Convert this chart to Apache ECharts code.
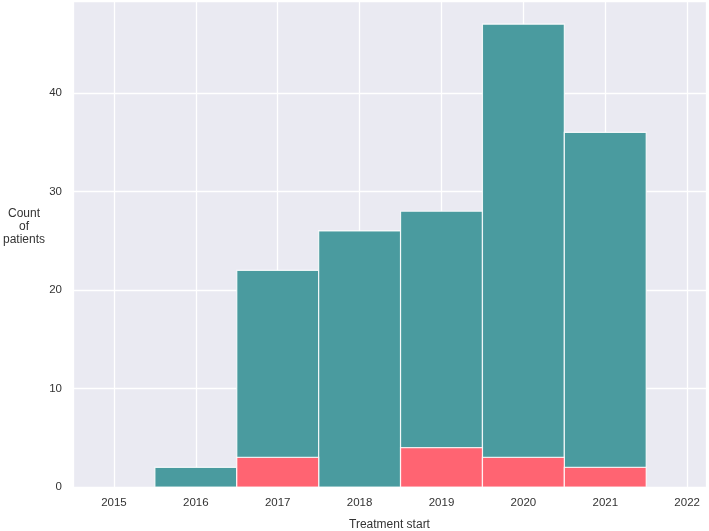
<!DOCTYPE html>
<html>
<head>
<meta charset="utf-8">
<script src="https://cdn.jsdelivr.net/npm/echarts@6/dist/echarts.min.js"></script>
<style>
  html, body { margin: 0; padding: 0; background: #ffffff; }
  #chart { width: 709px; height: 531px; }
</style>
</head>
<body>
<div id="chart"></div>
<script>
// yearly bins, each 1 year wide centred on the year
const years = [2016, 2017, 2018, 2019, 2020, 2021]
const totalCounts = [2, 22, 26, 28, 47, 36]
const subgroupCounts = [0, 3, 0, 4, 3, 2]

const teal = '#4a9b9f'
const pink = '#ff6472'

const chart = echarts.init(document.getElementById('chart'))

function binData(counts) {
  return years.map((y, i) => [y - 0.5, y + 0.5, counts[i]])
}

function renderBin(params, api) {
  const start = api.coord([api.value(0), 0])
  const end = api.coord([api.value(1), api.value(2)])
  if (api.value(2) <= 0) return null
  return {
    type: 'rect',
    shape: {
      x: start[0],
      y: end[1],
      width: end[0] - start[0],
      height: start[1] - end[1]
    },
    style: api.style({
      fill: api.visual('color'),
      stroke: 'rgba(255,255,255,0.85)',
      lineWidth: 1.2
    })
  }
}

const labelColor = '#333333'
const fontFamily = '"Liberation Sans", Arial, sans-serif'

chart.setOption({
  animation: false,
  backgroundColor: '#ffffff',
  textStyle: { fontFamily },
  grid: {
    left: 73,
    right: 3,
    top: 1,
    bottom: 44,
    outerBoundsMode: 'none',
    show: true,
    backgroundColor: '#eaeaf2',
    borderWidth: 0
  },
  xAxis: {
    type: 'value',
    min: 2014.5,
    max: 2022.23,
    minInterval: 1,
    maxInterval: 1,
    name: 'Treatment start',
    nameLocation: 'middle',
    nameGap: 32,
    nameTextStyle: { color: labelColor, fontSize: 12, fontFamily },
    axisLine: { show: false },
    axisTick: { show: false },
    axisLabel: {
      color: labelColor,
      fontSize: 11.5,
      margin: 10,
      showMinLabel: false,
      showMaxLabel: false,
      formatter: (v) => Number.isInteger(v) ? String(v) : ''
    },
    splitLine: { show: true, lineStyle: { color: '#ffffff', width: 1.3 } }
  },
  yAxis: {
    type: 'value',
    min: 0,
    max: 49.35,
    interval: 10,
    axisLine: { show: false },
    axisTick: { show: false },
    axisLabel: {
      color: labelColor,
      fontSize: 11.5,
      margin: 11,
      showMaxLabel: false
    },
    splitLine: { show: true, lineStyle: { color: '#ffffff', width: 1.3 } }
  },
  graphic: [
    {
      type: 'text',
      x: 24,
      y: 207,
      style: {
        text: 'Count\nof\npatients',
        fill: labelColor,
        font: '12px "Liberation Sans", Arial, sans-serif',
        align: 'center',
        verticalAlign: 'top',
        lineHeight: 13
      }
    }
  ],
  series: [
    {
      name: 'All patients',
      type: 'custom',
      renderItem: renderBin,
      itemStyle: { color: teal },
      encode: { x: [0, 1], y: 2 },
      data: binData(totalCounts),
      z: 2
    },
    {
      name: 'Subgroup',
      type: 'custom',
      renderItem: renderBin,
      itemStyle: { color: pink },
      encode: { x: [0, 1], y: 2 },
      data: binData(subgroupCounts),
      z: 3
    }
  ]
})
</script>
</body>
</html>
